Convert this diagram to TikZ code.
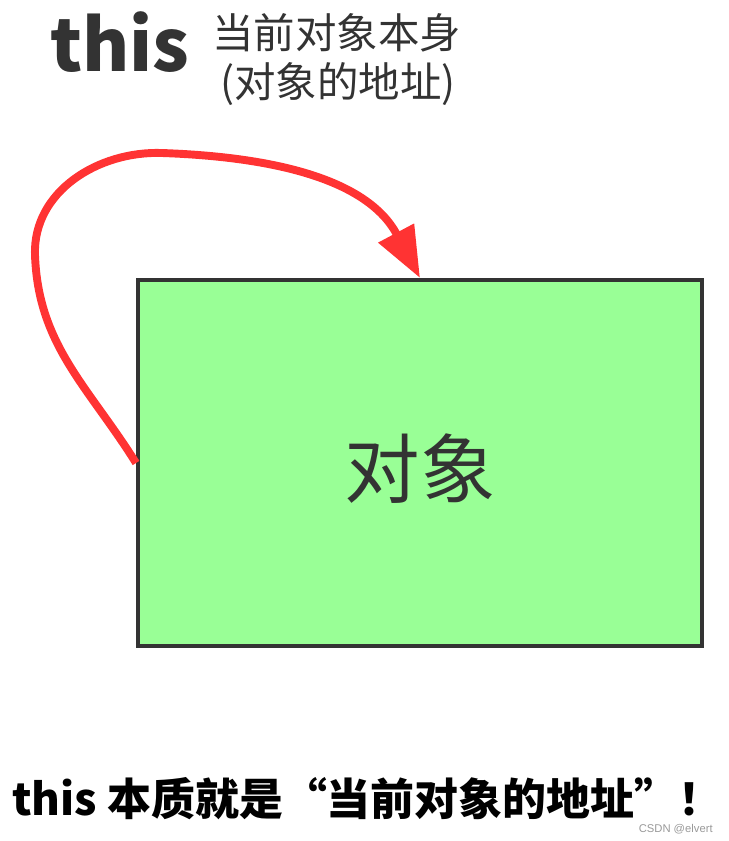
\documentclass[tikz,border=0pt]{standalone}
\usepackage{fontspec}
\setmainfont{Noto Sans CJK SC}
\newfontfamily\markfont{Liberation Sans}
\usetikzlibrary{arrows.meta}
\definecolor{boxgreen}{RGB}{153,255,150}
\definecolor{darkline}{RGB}{51,51,51}
\definecolor{arrowred}{RGB}{255,51,51}
\tikzset{
      objbox/.style={draw=darkline, fill=boxgreen, line width=2.3pt, inner sep=0,
            minimum width=11.28cm, minimum height=7.32cm},
      selfarrow/.style={draw=arrowred, line width=4.5pt,
            -{Triangle[length=29pt,width=22pt,fill=arrowred]}},
      label/.style={text=darkline, inner sep=0},
}

\begin{document}
\begin{tikzpicture}[x=0.02cm, y=-0.02cm]
        \useasboundingbox (0,0) rectangle (729,841);

        % Draw the object
        \node[objbox] (obj) at (420,463) {};
        \node[label, font=\fontsize{43}{43}\selectfont] (objtext) at (420,469) {对象};

        % Draw the labels
        \node[label, anchor=base west, font=\fontsize{41}{41}\selectfont\bfseries] (this) at (50,72) {this};
        \node[label, anchor=west, font=\fontsize{23.6}{24}\selectfont] (self) at (212,33) {当前对象本身};
        \node[label, anchor=west, font=\fontsize{23.6}{24}\selectfont] (addr) at (220,84) {(对象的地址)};

        % Draw the arrow
        \draw[selfarrow] (obj.west) to[out=122,in=-88] (35,255) to[out=92,in=178] (162,153)
              to[out=-2,in=118] (obj.north);

        % Draw the caption
        \node[anchor=west, inner sep=0, font=\fontsize{25}{25}\selectfont\bfseries] (caption) at (12,799)
              {this 本质就是“当前对象的地址”！};
        \node[anchor=base east, inner sep=0, text=gray!80, font=\fontsize{6.4}{6.4}\selectfont\markfont] (mark) at (713,832) {CSDN @elvert};

\end{tikzpicture}
\end{document}
